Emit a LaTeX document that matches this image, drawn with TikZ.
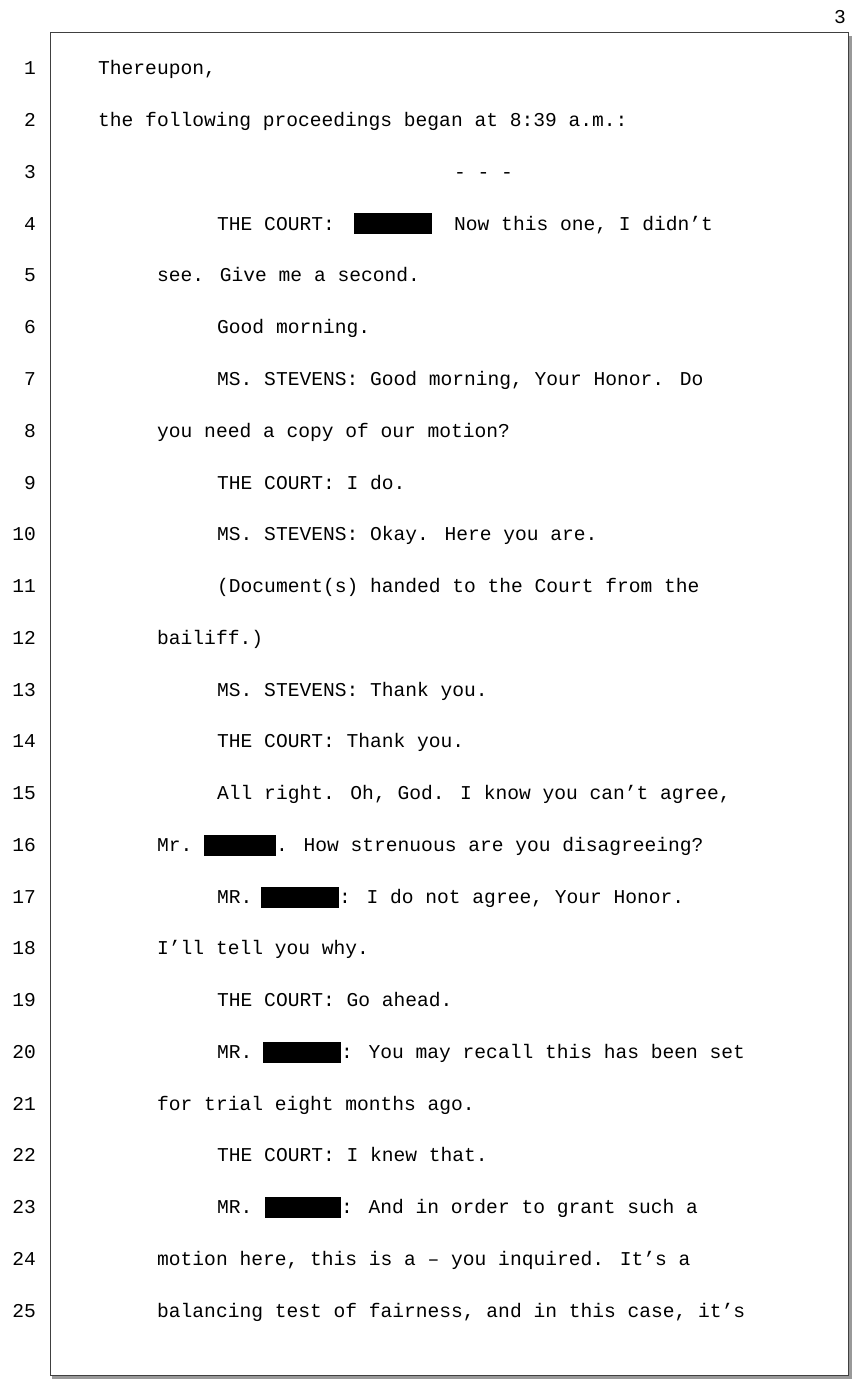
\documentclass[tikz,border=0pt]{standalone}
\usepackage{fontspec}
\setmainfont{Liberation Mono}
\usetikzlibrary{positioning}

\tikzset{
  txt/.style={anchor=base west, inner sep=0pt, font=\fontsize{19.6}{22}\selectfont},
  num/.style={anchor=base east, inner sep=0pt, font=\fontsize{19.6}{22}\selectfont},
  redact/.style={fill=black, draw=none}
}

\begin{document}
\begin{tikzpicture}[x=1pt, y=-1pt]
  \useasboundingbox (0,0) rectangle (862,1396);
  % page frame with shadow
  \draw[gray!80, line width=3pt] (52,1377) -- (850,1377) -- (850,36);
  \draw[black!75, line width=1pt] (50,33) rectangle (848,1375);
  \node[num] (pg) at (846,24) {3};
  % line numbers
  \foreach \i in {1,...,25}
    \node[num] (n\i) at (36,{75+(\i-1)*51.75}) {\i};
  % transcript lines
  \node[txt] (l1) at (98,75) {Thereupon,};
  \node[txt] (l2) at (98,126.75) {the following proceedings began at 8:39 a.m.:};
  \node[txt] (l3) at (454,178.5) {- - -};
  \node[txt] (l4) at (217,230.25) {THE COURT:};
  \fill[redact] (354,213) rectangle (432,234);
  \node[txt] (l4b) at (454,230.25) {Now this one, I didn't};
  \node[txt] (l5) at (157,282) {see.  Give me a second.};
  \node[txt] (l6) at (217,333.75) {Good morning.};
  \node[txt] (l7) at (217,385.5) {MS. STEVENS:  Good morning, Your Honor.  Do};
  \node[txt] (l8) at (157,437.25) {you need a copy of our motion?};
  \node[txt] (l9) at (217,489) {THE COURT:  I do.};
  \node[txt] (l10) at (217,540.75) {MS. STEVENS:  Okay.  Here you are.};
  \node[txt] (l11) at (217,592.5) {(Document(s) handed to the Court from the};
  \node[txt] (l12) at (157,644.25) {bailiff.)};
  \node[txt] (l13) at (217,696) {MS. STEVENS:  Thank you.};
  \node[txt] (l14) at (217,747.75) {THE COURT:  Thank you.};
  \node[txt] (l15) at (217,799.5) {All right.  Oh, God.  I know you can't agree,};
  \node[txt] (l16) at (157,851.25) {Mr.};
  \fill[redact] (204,835) rectangle (276,856);
  \node[txt] (l16b) at (276,851.25) {.  How strenuous are you disagreeing?};
  \node[txt] (l17) at (217,903) {MR.};
  \fill[redact] (261,887) rectangle (339,908);
  \node[txt] (l17b) at (339,903) {:  I do not agree, Your Honor.};
  \node[txt] (l18) at (157,954.75) {I'll tell you why.};
  \node[txt] (l19) at (217,1006.5) {THE COURT:  Go ahead.};
  \node[txt] (l20) at (217,1058.25) {MR.};
  \fill[redact] (263,1042) rectangle (341,1063);
  \node[txt] (l20b) at (341,1058.25) {:  You may recall this has been set};
  \node[txt] (l21) at (157,1110) {for trial eight months ago.};
  \node[txt] (l22) at (217,1161.75) {THE COURT:  I knew that.};
  \node[txt] (l23) at (217,1213.5) {MR.};
  \fill[redact] (265,1197) rectangle (341,1218);
  \node[txt] (l23b) at (341,1213.5) {:  And in order to grant such a};
  \node[txt] (l24) at (157,1265.25) {motion here, this is a -- you inquired.  It's a};
  \node[txt] (l25) at (157,1317) {balancing test of fairness, and in this case, it's};
\end{tikzpicture}
\end{document}
